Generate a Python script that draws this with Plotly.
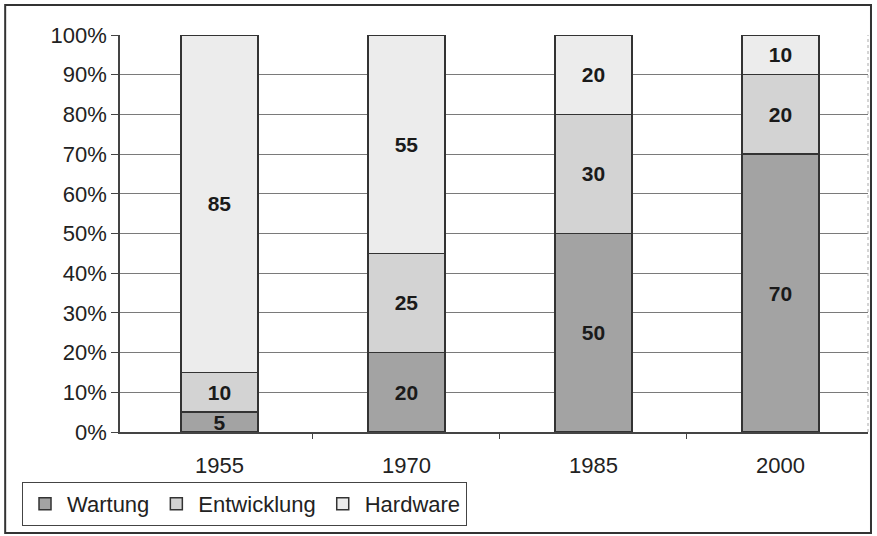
import plotly.graph_objects as go

years = ["1955", "1970", "1985", "2000"]
wartung = [5, 20, 50, 70]
entwicklung = [10, 25, 30, 20]
hardware = [85, 55, 20, 10]
y_ticks = [0, 10, 20, 30, 40, 50, 60, 70, 80, 90, 100]
y_tick_labels = [f"{v}%" for v in y_ticks]

positions = list(range(len(years)))
boundaries = [p + 0.5 for p in positions[:-1]]

series = [
    ("Wartung", wartung, "#a3a3a3"),
    ("Entwicklung", entwicklung, "#d3d3d3"),
    ("Hardware", hardware, "#ececec"),
]

fig = go.Figure()
for name, vals, col in series:
    fig.add_trace(go.Bar(
        x=positions, y=vals, name=name, width=0.41,
        marker=dict(color=col, line=dict(color="#333333", width=1.5)),
        text=[str(v) for v in vals],
        textposition="inside", insidetextanchor="middle", textangle=0,
        textfont=dict(family="Liberation Sans", size=21, color="#1a1a1a", weight="bold"),
    ))

fig.update_layout(
    width=877, height=536,
    barmode="stack", barnorm="percent",
    margin=dict(l=120, r=9, t=35, b=104),
    paper_bgcolor="white", plot_bgcolor="white",
    font=dict(family="Liberation Sans", size=22, color="#222222"),
    uniformtext=dict(minsize=21, mode="show"),
    showlegend=True,
    legend=dict(
        orientation="h", x=-0.131, y=-0.126, xanchor="left", yanchor="top",
        bordercolor="#444444", borderwidth=1, bgcolor="white",
        font=dict(size=22, color="#222222"), traceorder="normal",
        itemwidth=34, tracegroupgap=0,
    ),
    xaxis=dict(
        range=[-0.532, 3.468], tickmode="array", tickvals=positions, ticktext=years,
        ticks="", showline=True, linecolor="#444444", linewidth=1.5,
        showgrid=False, zeroline=False, ticklabelstandoff=13, tickfont=dict(size=22),
        minor=dict(tickmode="array", tickvals=boundaries, ticks="outside",
                   ticklen=5, tickcolor="#444444", showgrid=False),
    ),
    yaxis=dict(
        range=[0, 100], tickmode="array", tickvals=y_ticks, ticktext=y_tick_labels,
        ticks="outside", ticklen=7, tickcolor="#444444", showline=True,
        linecolor="#444444", linewidth=1.5, showgrid=True, gridcolor="#7a7a7a",
        gridwidth=1, tickfont=dict(size=22), zeroline=False,
    ),
    shapes=[
        dict(type="rect", xref="paper", yref="paper",
             x0=-0.1535, x1=1.004, y0=-0.2544, y1=1.0756,
             line=dict(color="#333333", width=2), fillcolor="rgba(0,0,0,0)", layer="below"),
        dict(type="line", xref="paper", yref="paper", x0=1, x1=1, y0=0, y1=1,
             line=dict(color="#aaaaaa", width=1, dash="dot")),
    ],
)

fig.write_html("out.html", config={"displayModeBar": False},
               post_script="document.body.style.margin='0';")
